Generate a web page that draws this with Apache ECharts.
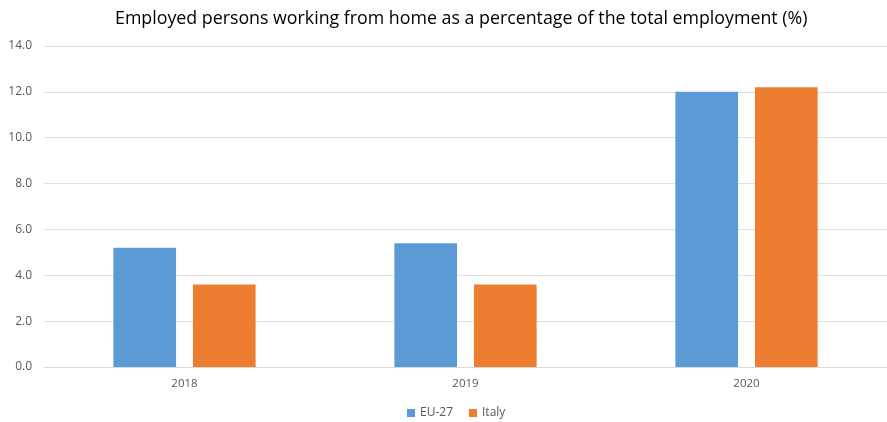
<!DOCTYPE html>
<html><head><meta charset="utf-8">
<script src="https://cdn.jsdelivr.net/npm/echarts@6/dist/echarts.min.js"></script>
<style>html,body{margin:0;padding:0;background:#fff}#c{width:887px;height:422px}</style>
</head><body><div id="c"></div>
<script>
const categories = ['2018', '2019', '2020'];
const eu27 = [5.2, 5.4, 12.0];
const italy = [3.6, 3.6, 12.2];
const yTicks = {min: 0, max: 14, interval: 2};

const chart = echarts.init(document.getElementById('c'));
chart.setOption({
  animation: false,
  title: {
    text: 'Employed persons working from home as a percentage of the total employment (%)',
    left: 110, top: 5,
    textStyle: {fontFamily: 'Open Sans', fontSize: 17.8, fontWeight: 'normal', color: '#000'}
  },
  legend: {
    bottom: -2, left: 402, itemWidth: 8, itemHeight: 8, itemGap: 16,
    icon: 'rect',
    textStyle: {fontFamily: 'Open Sans', fontSize: 12, color: '#595959'},
    data: ['EU-27', 'Italy']
  },
  grid: {left: 44, right: -2, top: 46, bottom: 55},
  xAxis: {
    type: 'category', data: categories,
    axisLine: {lineStyle: {color: '#d9d9d9'}},
    axisTick: {show: false},
    axisLabel: {fontFamily: 'Open Sans', fontSize: 11.5, color: '#595959', margin: 11}
  },
  yAxis: {
    type: 'value', min: yTicks.min, max: yTicks.max, interval: yTicks.interval,
    axisLabel: {fontFamily: 'Open Sans', fontSize: 12, color: '#595959', formatter: v => v.toFixed(1), margin: 12},
    splitLine: {lineStyle: {color: '#e0e0e0'}},
    axisLine: {show: false}, axisTick: {show: false}
  },
  series: [
    {name: 'EU-27', type: 'bar', data: eu27, barWidth: '22.3%', barGap: '27%', itemStyle: {color: '#5b9bd5'}},
    {name: 'Italy', type: 'bar', data: italy, barWidth: '22.3%', itemStyle: {color: '#ed7d31'}}
  ]
});
</script></body></html>
